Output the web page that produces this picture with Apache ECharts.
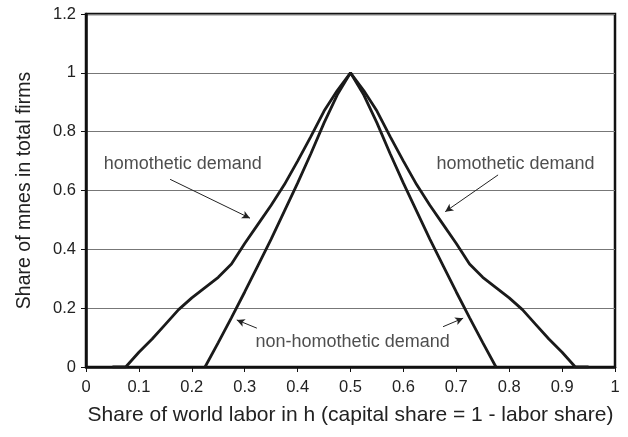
<!DOCTYPE html>
<html>
<head>
<meta charset="utf-8">
<script src="https://cdn.jsdelivr.net/npm/echarts@6/dist/echarts.min.js"></script>
<style>
  html, body { margin: 0; padding: 0; background: #fff; }
  #chart { width: 628px; height: 437px; }
</style>
</head>
<body>
<div id="chart"></div>
<script>
// x = share of world labor in h
const labShare = [0.05, 0.075, 0.1, 0.125, 0.15, 0.175, 0.2, 0.225, 0.25, 0.275, 0.3, 0.325, 0.35, 0.375, 0.4, 0.425, 0.45, 0.475, 0.5,
  0.525, 0.55, 0.575, 0.6, 0.625, 0.65, 0.675, 0.7, 0.725, 0.75, 0.775, 0.8, 0.825, 0.85, 0.875, 0.9, 0.925, 0.95]
const homothetic = [0, 0, 0.05, 0.095, 0.145, 0.195, 0.235, 0.27, 0.305, 0.35, 0.42, 0.485, 0.55, 0.62, 0.70, 0.783, 0.87, 0.94, 1.0,
  0.94, 0.87, 0.783, 0.70, 0.62, 0.55, 0.485, 0.42, 0.35, 0.305, 0.27, 0.235, 0.195, 0.145, 0.095, 0.05, 0, 0]
const nonHomShare = [0.225, 0.25, 0.275, 0.3, 0.325, 0.35, 0.375, 0.4, 0.425, 0.45, 0.475, 0.5,
  0.525, 0.55, 0.575, 0.6, 0.625, 0.65, 0.675, 0.7, 0.725, 0.75, 0.775]
const nonHomothetic = [0, 0.083, 0.168, 0.255, 0.345, 0.435, 0.53, 0.625, 0.725, 0.83, 0.925, 1.0,
  0.925, 0.83, 0.725, 0.625, 0.53, 0.435, 0.345, 0.255, 0.168, 0.083, 0]

const xTicks = [0, 0.1, 0.2, 0.3, 0.4, 0.5, 0.6, 0.7, 0.8, 0.9, 1]
const yTicks = [0, 0.2, 0.4, 0.6, 0.8, 1, 1.2]

// annotations: text and arrows, in data units
const noteTexts = ['homothetic demand', 'homothetic demand', 'non-homothetic demand']
const notePos = [[0.183, 0.69], [0.812, 0.69], [0.504, 0.085]]
const arrows = [
  [[0.159, 0.638], [0.310, 0.506]],
  [[0.779, 0.653], [0.679, 0.528]],
  [[0.323, 0.132], [0.285, 0.160]],
  [[0.675, 0.137], [0.713, 0.166]]
]

const font = 'Liberation Sans, Arial, Helvetica, sans-serif'
const chart = echarts.init(document.getElementById('chart'))

chart.setOption({
  animation: false,
  textStyle: { fontFamily: font },
  grid: {
    left: 86, right: 13, top: 14, bottom: 70,
    show: true, borderColor: '#111', borderWidth: 2.5, backgroundColor: 'transparent'
  },
  xAxis: {
    type: 'value', min: 0, max: 1, interval: 0.1,
    name: 'Share of world labor in h (capital share = 1 - labor share)',
    nameLocation: 'middle', nameGap: 38,
    nameTextStyle: { fontSize: 21, color: '#222', fontFamily: font },
    axisLine: { lineStyle: { color: '#111', width: 2.5 } },
    axisTick: { length: 5, lineStyle: { color: '#111' } },
    axisLabel: { fontSize: 16.5, color: '#222', margin: 12, formatter: v => xTicks.includes(+v.toFixed(2)) ? String(+v.toFixed(2)) : '' },
    splitLine: { show: false }
  },
  yAxis: {
    type: 'value', min: 0, max: 1.2, interval: 0.2,
    name: 'Share of mnes in total firms',
    nameLocation: 'middle', nameGap: 51,
    nameTextStyle: { fontSize: 19.5, color: '#222', fontFamily: font },
    axisLine: { lineStyle: { color: '#111', width: 2.5 } },
    axisTick: { length: 5, inside: false, lineStyle: { color: '#111' } },
    axisLabel: { fontSize: 16.5, color: '#222', margin: 10, formatter: v => yTicks.includes(+v.toFixed(2)) ? String(+v.toFixed(2)) : '' },
    splitLine: { lineStyle: { color: '#777', width: 1.2 } }
  },
  series: [
    {
      name: 'homothetic demand',
      type: 'line',
      data: labShare.map((x, i) => [x, homothetic[i]]),
      showSymbol: false,
      lineStyle: { color: '#1a1a1a', width: 2.8 },
      z: 3
    },
    {
      name: 'non-homothetic demand',
      type: 'line',
      data: nonHomShare.map((x, i) => [x, nonHomothetic[i]]),
      showSymbol: false,
      lineStyle: { color: '#1a1a1a', width: 2.8 },
      z: 3,
      markLine: {
        silent: true,
        symbol: ['none', 'arrow'],
        symbolSize: [6, 8],
        label: { show: false },
        lineStyle: { color: '#222', width: 1, type: 'solid' },
        data: arrows.map(a => [{ coord: a[0] }, { coord: a[1] }])
      }
    },
    {
      type: 'scatter',
      symbolSize: 0,
      silent: true,
      data: notePos.map((p, i) => ({ value: p, name: noteTexts[i] })),
      label: {
        show: true, position: 'inside', formatter: p => p.name,
        fontSize: 18, color: '#222', fontFamily: font
      }
    }
  ]
})
</script>
</body>
</html>
